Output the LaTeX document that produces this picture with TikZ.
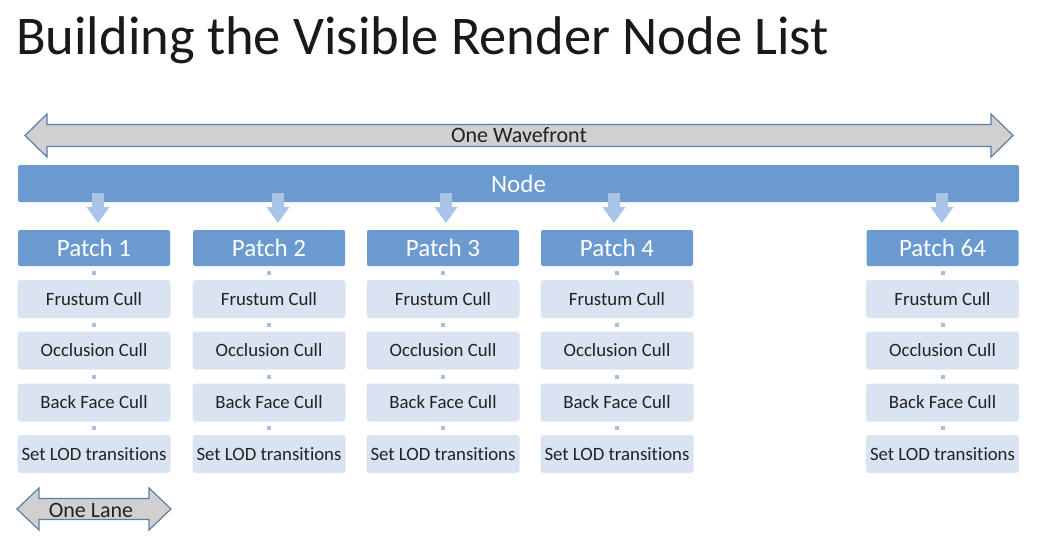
\documentclass[tikz,border=0pt]{standalone}
\usepackage{fontspec}
\setmainfont{Carlito}[Ligatures={NoCommon}]
\usetikzlibrary{calc}
\definecolor{nodeblue}{HTML}{6A9AD0}
\definecolor{stepfill}{HTML}{DAE3F1}
\definecolor{dotblue}{HTML}{A4BFE0}
\definecolor{downblue}{HTML}{A9C4E6}
\definecolor{grayfill}{HTML}{D0D0D0}
\definecolor{grayedge}{HTML}{5B7FA6}
\definecolor{txt}{HTML}{222222}
\tikzset{
  barbox/.style={fill=nodeblue, draw=none, rounded corners=2pt, text=white},
  patchbox/.style={fill=nodeblue, draw=none, rounded corners=2pt, text=white,
    minimum width=152pt, minimum height=36pt, inner sep=0pt, font=\fontsize{25}{30}\selectfont},
  stepbox/.style={fill=stepfill, draw=none, rounded corners=3pt, text=txt,
    minimum width=153pt, minimum height=38pt, inner sep=0pt, font=\fontsize{18.8}{22}\selectfont},
  linkdot/.style={fill=dotblue, draw=none},
  downarrow/.style={fill=downblue, draw=none},
  bigarrow/.style={fill=grayfill, draw=grayedge, line width=1.2pt, line join=miter},
}
\begin{document}
\begin{tikzpicture}[x=1pt,y=-1pt]
\useasboundingbox (0,0) rectangle (1039,552);
% title
\node[anchor=base west, inner sep=0pt, text=black!90, font=\fontsize{54.5}{60}\selectfont] (title) at (16,54) {Building the Visible Render Node List};
% wavefront arrow
\draw[bigarrow] (25,135.5) -- (47,114) -- (47,124.5) -- (991,124.5) -- (991,114) -- (1013,135.5)
  -- (991,157) -- (991,146.5) -- (47,146.5) -- (47,157) -- cycle;
\node[text=txt, font=\fontsize{22}{26}\selectfont, inner sep=0pt] (wave) at (519,135.5) {One Wavefront};
% node bar
\node[barbox, minimum width=1001pt, minimum height=37pt, inner sep=0pt, font=\fontsize{25}{30}\selectfont] (node) at (518.5,183.5) {Node};
% columns
\foreach \name/\cx/\ax/\lab in {c1/94/98/1, c2/269/278/2, c3/443/446/3, c4/617/614/4, c64/942.5/942/64}{
  \node[patchbox] (\name p) at (\cx,248) {Patch \lab};
  \node[stepbox] (\name a) at (\cx,299) {Frustum Cull};
  \node[stepbox] (\name b) at (\cx,350.5) {Occlusion Cull};
  \node[stepbox] (\name c) at (\cx,402.5) {Back Face Cull};
  \node[stepbox] (\name d) at (\cx,454) {Set LOD transitions};
  % down block arrow from Node bar to patch
  \fill[downarrow] (\ax-6,193) -- (\ax+6,193) -- (\ax+6,207) -- (\ax+11.5,207) -- (\ax,223)
     -- (\ax-11.5,207) -- (\ax-6,207) -- cycle;
  % link dots
  \path ($(\name p.south)!0.5!(\name a.north)$) coordinate (\name d1);
  \fill[linkdot] ($(\name d1)+(-2,-2)$) rectangle ($(\name d1)+(2,2)$);
  \path ($(\name a.south)!0.5!(\name b.north)$) coordinate (\name d2);
  \fill[linkdot] ($(\name d2)+(-2,-2)$) rectangle ($(\name d2)+(2,2)$);
  \path ($(\name b.south)!0.5!(\name c.north)$) coordinate (\name d3);
  \fill[linkdot] ($(\name d3)+(-2,-2)$) rectangle ($(\name d3)+(2,2)$);
  \path ($(\name c.south)!0.5!(\name d.north)$) coordinate (\name d4);
  \fill[linkdot] ($(\name d4)+(-2,-2)$) rectangle ($(\name d4)+(2,2)$);
}
% one lane arrow
\draw[bigarrow] (17,509) -- (39,488) -- (39,498.5) -- (149,498.5) -- (149,488) -- (171,509)
  -- (149,530) -- (149,519.5) -- (39,519.5) -- (39,530) -- cycle;
\node[text=txt, font=\fontsize{22}{26}\selectfont, inner sep=0pt] (lane) at (91,510) {One Lane};
\end{tikzpicture}
\end{document}
